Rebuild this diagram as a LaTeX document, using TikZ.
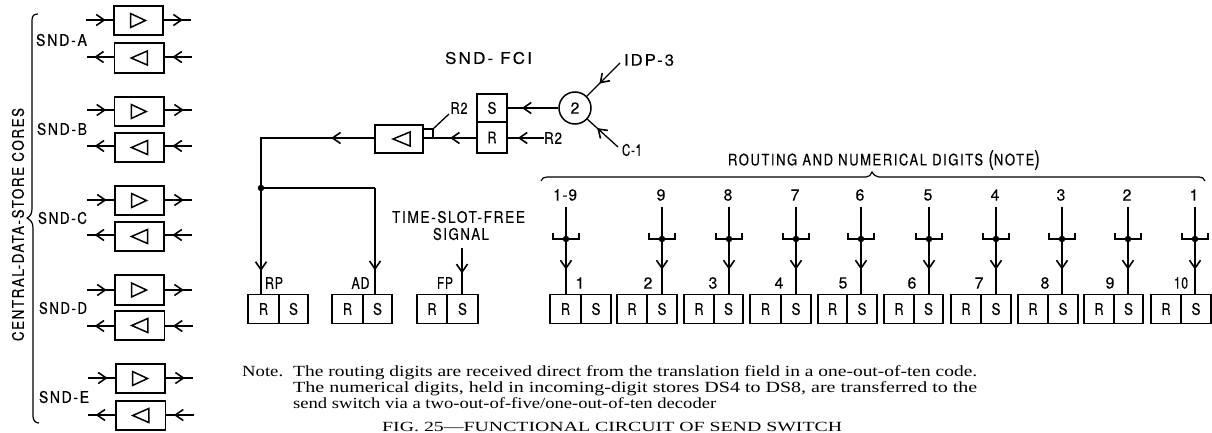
\documentclass[tikz,border=0pt]{standalone}
\usepackage{graphicx}
\usepackage{fontspec}
\setmainfont{Liberation Serif}
\newfontfamily\lblfont[LetterSpace=6,FakeBold=0.2]{TeX Gyre Heros}
\newfontfamily\lblwide[LetterSpace=12,FakeBold=0.2]{TeX Gyre Heros}
\usetikzlibrary{arrows.meta,decorations.markings,calc}
\newcommand{\lbl}{\fontsize{16}{18}\selectfont\lblfont}
\newcommand{\fitw}[2]{\resizebox{#1pt}{\height}{#2}}
\tikzset{
  wire/.style={line width=1.3pt},
  ampbox/.style={draw,line width=1.5pt,inner sep=0pt},
  cell/.style={draw,line width=1.4pt,inner sep=0pt,minimum width=30.5pt,minimum height=29.5pt,font=\lbl},
  lab/.style={inner sep=0pt,font=\lbl},
  tri/.style={line width=1.5pt},
  note/.style={inner sep=0pt,anchor=base west,font=\fontsize{15.5}{16}\selectfont},
  dotn/.style={circle,fill=black,inner sep=0pt,minimum size=6.5pt},
  midarr/.style={postaction={decorate},decoration={markings,mark=at position #1 with {\arrow[line width=1.6pt]{Straight Barb[length=8pt,width=11pt]}}}}
}
% forward amplifier: name, left, top, right, bottom, line y
\newcommand{\ampF}[6]{
  \node[ampbox,minimum width=#4pt-#2pt,minimum height=#5pt-#3pt] (#1) at ({(#2+#4)/2},{(#3+#5)/2}) {};
  \draw[tri] ($(#1.center)+(-8,-7)$) -- ($(#1.center)+(7,0)$) -- ($(#1.center)+(-8,7)$) -- cycle;
  \coordinate (#1i) at (#2-28,#6);
  \coordinate (#1o) at (#4+28,#6);
  \draw[wire,midarr=0.72] (#1i) -- (#1i-|#1.west);
  \draw[wire,midarr=0.7] (#1o-|#1.east) -- (#1o);
}
% backward amplifier
\newcommand{\ampB}[6]{
  \node[ampbox,minimum width=#4pt-#2pt,minimum height=#5pt-#3pt] (#1) at ({(#2+#4)/2},{(#3+#5)/2}) {};
  \draw[tri] ($(#1.center)+(8,-7)$) -- ($(#1.center)+(-8,0)$) -- ($(#1.center)+(8,7)$) -- cycle;
  \coordinate (#1i) at (#4+28,#6);
  \coordinate (#1o) at (#2-28,#6);
  \draw[wire,midarr=0.72] (#1i) -- (#1i-|#1.east);
  \draw[wire,midarr=0.72] (#1o-|#1.west) -- (#1o);
}
% R/S pair: name, left, divider, right
\newcommand{\rspair}[4]{
  \node[cell,minimum width=#3pt-#2pt] (#1R) at ({(#2+#3)/2},309) {\fitw{9}{R}};
  \node[cell,minimum width=#4pt-#3pt] (#1S) at ({(#3+#4)/2},309) {\fitw{9}{S}};
}
% digit input: name, x, target node, top label, bottom label, bottom label x
\newcommand{\digit}[6]{
  \node[lab] (#1t) at (#2-1,195) {#4};
  \coordinate (#1s) at (#2,207);
  \coordinate (#1e) at (#2,294);
  \node[dotn] (#1d) at (#2,239) {};
  \draw[wire,midarr=0.72] (#1s) -- (#1e);
  \draw[wire] ($(#1d)+(-13,-6)$) -- ($(#1d)+(-13,0)$) -- ($(#1d)+(13,0)$) -- ($(#1d)+(13,-6)$);
  \node[lab] (#1b) at (#6,283) {#5};
}
\begin{document}
\begin{tikzpicture}[x=1pt,y=-1pt]
\useasboundingbox (0,0) rectangle (1212,433);
% left amplifiers
\ampF{aa}{114}{6}{163}{35}{20}
\ampB{ab}{114.5}{43}{164}{73}{57}
\ampF{ba}{114.5}{97}{164}{126}{110}
\ampB{bb}{115}{133}{164}{162}{146}
\ampF{ca}{115}{186}{164}{215}{200}
\ampB{cb}{115}{222}{164}{251}{235}
\ampF{da}{115}{275}{164}{305}{290}
\ampB{db}{115}{311}{164.5}{340}{326}
\ampF{ea}{116}{364}{165}{393}{378}
\ampB{eb}{116}{401}{165.5}{430}{415}
\node[lab] (la) at (61.5,40) {\fitw{51}{\lblwide SND-A}};
\node[lab] (lb) at (62,129) {\fitw{50}{\lblwide SND-B}};
\node[lab] (lc) at (62.5,218) {\fitw{49}{\lblwide SND-C}};
\node[lab] (ld) at (63,308) {\fitw{48}{\lblwide SND-D}};
\node[lab] (le) at (64,397) {\fitw{50}{\lblwide SND-E}};
\node[lab,rotate=90] (core) at (18,224.5) {\fitw{233}{\lblwide CENTRAL-DATA-STORE CORES}};
% left brace
\draw[line width=1.2pt] (38,14) .. controls (34,14) and (32,16) .. (32,20) -- (32,208)
  .. controls (32,213) and (31,216) .. (27,218) .. controls (31,220) and (33,223) .. (33,228)
  -- (33,416) .. controls (33,420) and (35,423) .. (39,423);
% SND-FCI
\node[lab] (fci) at (488.5,58) {\fitw{87}{\lblwide SND- FCI}};
\node[draw,line width=1.4pt,minimum width=30pt,minimum height=28pt,inner sep=0pt,font=\lbl] (S) at (492,108) {\fitw{9}{S}};
\node[draw,line width=1.4pt,minimum width=30pt,minimum height=31pt,inner sep=0pt,font=\lbl] (R) at (492,137.5) {\fitw{9}{R}};
\node[draw,circle,line width=1.5pt,minimum size=32pt,inner sep=0pt,font=\lbl] (two) at (575,108) {2};
\draw[wire,line width=1.6pt,midarr=0.72] (two) -- (S);
\node[lab] (r2b) at (553,138) {\fitw{18}{R2}};
\draw[wire,midarr=0.72] (r2b.west) -- (R.east|-r2b.west);
\node[ampbox,minimum width=48pt,minimum height=28pt] (fa) at (399,139) {};
\draw[tri] ($(fa.center)+(11,-7)$) -- ($(fa.center)+(-6,0)$) -- ($(fa.center)+(11,7)$) -- cycle;
\node[draw,line width=1.2pt,minimum width=10pt,minimum height=9pt,inner sep=0pt] (sq) at (428,133.5) {};
\draw[wire,midarr=0.5] (R.west|-0,138) -- (fa.east|-0,138);
\node[lab] (r2a) at (459,108) {\fitw{17}{R2}};
\draw[wire] (sq.north east) -- (449,114);
\node[lab] (idp) at (649,60) {\fitw{50}{\lblwide IDP-3}};
\coordinate (idps) at (620,63);
\draw[wire,midarr=0.62] (idps) -- (two);
\node[lab] (c1) at (632,150) {\fitw{20}{C-1}};
\coordinate (c1s) at (618,147);
\draw[wire,midarr=0.68] (c1s) -- (two);
% lower left boxes
\rspair{rp}{248}{279}{308}
\rspair{ad}{332}{363}{392}
\rspair{fp}{417}{447}{478}
\coordinate (corner) at (261,138);
\node[dotn] (junc) at (261,188) {};
\coordinate (adc) at (375,188);
\draw[wire,midarr=0.27] (fa.west|-corner) -- (corner) -- (junc);
\draw[wire,midarr=0.78] (junc) -- (junc|-rpR.north);
\draw[wire] (junc) -- (adc);
\draw[wire,midarr=0.78] (adc) -- (adc|-adS.north);
\coordinate (fps) at (462,248);
\draw[wire,midarr=0.56] (fps) -- (fps|-fpS.north);
\node[lab] (rpl) at (274,283) {\fitw{18}{RP}};
\node[lab] (adl) at (360.5,283) {\fitw{18}{AD}};
\node[lab] (fpl) at (445,283) {\fitw{16}{FP}};
\node[lab] (ts1) at (458.5,217) {\fitw{133}{\lblwide TIME-SLOT-FREE}};
\node[lab] (ts2) at (461,234) {\fitw{56}{\lblwide SIGNAL}};
% digit row
\rspair{d1}{550}{581}{611}
\rspair{d2}{617}{647}{677}
\rspair{d3}{684}{714}{743}
\rspair{d4}{750}{781}{811}
\rspair{d5}{818}{847}{877}
\rspair{d6}{884}{914}{943}
\rspair{d7}{951}{981}{1011}
\rspair{d8}{1018}{1048}{1078}
\rspair{d9}{1084}{1114}{1143}
\rspair{d0}{1151}{1181}{1211}
\digit{a}{566}{d1R}{\fitw{24}{1-9}}{1}{580}
\digit{b}{662}{d2S}{9}{2}{648}
\digit{c}{729}{d3S}{8}{3}{713}
\digit{e}{796}{d4S}{7}{4}{779}
\digit{f}{861}{d5S}{6}{5}{843}
\digit{g}{929}{d6S}{5}{6}{912}
\digit{h}{996}{d7S}{4}{7}{979}
\digit{i}{1062}{d8S}{3}{8}{1045}
\digit{j}{1128}{d9S}{2}{9}{1110}
\digit{k}{1195}{d0S}{1}{\fitw{14}{10}}{1181}
% big brace
\draw[line width=1.2pt] (541,181) .. controls (542,178) and (544,177) .. (547,177) -- (866,177)
  .. controls (869,177) and (871,175) .. (872,172) .. controls (874,175) and (876,177) .. (879,177)
  -- (1199,177) .. controls (1202,177) and (1204,178) .. (1205,181);
\node[lab] (rout) at (884,160) {\fitw{312}{\lblwide ROUTING AND NUMERICAL DIGITS\ {\fontsize{21}{21}\selectfont(}NOTE{\fontsize{21}{21}\selectfont)}}};
% note
\node[note] (n0) at (242,376) {\fitw{41}{Note.}};
\node[note] (n1) at (293,376) {\fitw{684}{The routing digits are received direct from the translation field in a one-out-of-ten code.}};
\node[note] (n2) at (293,392.5) {\fitw{684}{The numerical digits, held in incoming-digit stores DS4 to DS8, are transferred to the}};
\node[note] (n3) at (293,408.5) {\fitw{423}{send switch via a two-out-of-five/one-out-of-ten decoder}};
\node[note,font=\fontsize{14}{15}\selectfont] (cap) at (382,431) {\fitw{460}{FIG. 25---FUNCTIONAL CIRCUIT OF SEND SWITCH}};
\end{tikzpicture}
\end{document}
